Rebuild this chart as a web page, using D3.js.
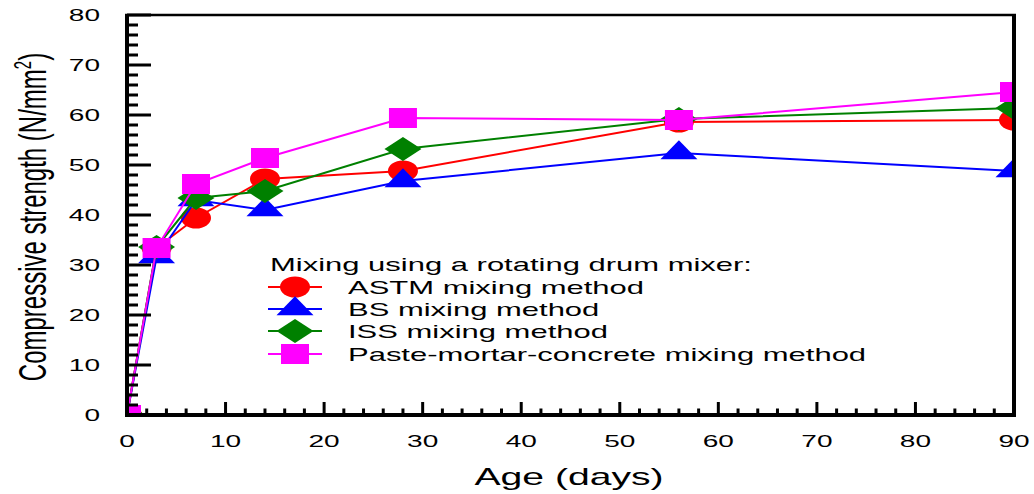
<!DOCTYPE html>
<html><head><meta charset="utf-8">
<script src="https://cdn.jsdelivr.net/npm/d3@7"></script>
<style>body{margin:0;background:#fff;} svg{display:block;} text{font-family:"Liberation Sans",Arial,sans-serif;}</style>
</head><body><svg id="c" width="1034" height="494"></svg>
<script>
const ages = [0, 3, 7, 14, 28, 56, 90];
const astm  = [0, 33.4, 39.4, 47.2, 48.8, 58.6, 59.0];
const bs    = [0, 31.6, 43.0, 41.0, 46.8, 52.4, 48.8];
const iss   = [0, 33.6, 43.4, 44.8, 53.2, 59.2, 61.4];
const paste = [0, 33.4, 46.2, 51.4, 59.4, 59.0, 64.6];
const seriesNames = ["ASTM mixing method","BS mixing method","ISS mixing method","Paste-mortar-concrete mixing method"];
const seriesColors = ["#ff0000","#0000ff","#008000","#ff00ff"];
const seriesShapes = ["ellipse","triangle","diamond","square"];
const legendTitle = "Mixing using a rotating drum mixer:";
const xTicks = [0,10,20,30,40,50,60,70,80,90];
const yTicks = [0,10,20,30,40,50,60,70,80];

const svg = d3.select("#c");
const x = d3.scaleLinear().domain([0,90]).range([127,1014]);
const y = d3.scaleLinear().domain([0,80]).range([415,15]);
const TS = 1.63; // horizontal text stretch

function stretch(sel,f){ sel.each(function(){ const w=this.getComputedTextLength(); this.setAttribute("textLength", w*f); this.setAttribute("lengthAdjust","spacingAndGlyphs"); }); }

function shapePath(s){
  if(s==="ellipse"){ const rx=15, ry=10.5; return `M${-rx},0A${rx},${ry} 0 1,0 ${rx},0A${rx},${ry} 0 1,0 ${-rx},0Z`; }
  if(s==="triangle"){ const w=37,h=19; return `M0,${-2*h/3}L${w/2},${h/3}L${-w/2},${h/3}Z`; }
  if(s==="diamond"){ const w=37,h=24; return `M0,${-h/2}L${w/2},0L0,${h/2}L${-w/2},0Z`; }
  const w=28,h=20; return `M${-w/2},${-h/2}h${w}v${h}h${-w}Z`;
}

svg.append("defs").append("clipPath").attr("id","clip").append("rect")
  .attr("x",x(0)).attr("y",y(80)).attr("width",x(90)-x(0)).attr("height",y(0)-y(80));

const data = [astm,bs,iss,paste];
const plot = svg.append("g").attr("clip-path","url(#clip)");
const line = d3.line().x((d,i)=>x(ages[i])).y(d=>y(d));
data.forEach((vals,k)=>{
  plot.append("path").datum(vals).attr("d",line).attr("fill","none")
    .attr("stroke",seriesColors[k]).attr("stroke-width",2);
  plot.selectAll(null).data(vals).enter().append("path")
    .attr("d",shapePath(seriesShapes[k]))
    .attr("transform",(d,i)=>`translate(${x(ages[i])},${y(d)})`)
    .attr("fill",seriesColors[k]);
});

// axes: ticks inward
const xMinor = d3.range(0,91,2);
const yMinor = d3.range(0,81,2);
svg.append("g").selectAll("line").data(xMinor).enter().append("line")
  .attr("x1",d=>x(d)).attr("x2",d=>x(d)).attr("y1",y(0))
  .attr("y2",d=>d%10===0? y(0)-13 : y(0)-6.5)
  .attr("stroke","#000").attr("stroke-width",3);
svg.append("g").selectAll("line").data(yMinor).enter().append("line")
  .attr("y1",d=>y(d)).attr("y2",d=>y(d)).attr("x1",x(0))
  .attr("x2",d=>d%10===0? x(0)+24 : x(0)+11)
  .attr("stroke","#000").attr("stroke-width",3);
// frame
svg.append("line").attr("x1",x(0)-2).attr("x2",x(90)+2).attr("y1",y(80)).attr("y2",y(80)).attr("stroke","#000").attr("stroke-width",2.5);
svg.append("line").attr("x1",x(90)).attr("x2",x(90)).attr("y1",y(80)-1).attr("y2",y(0)+2).attr("stroke","#000").attr("stroke-width",4);
svg.append("line").attr("x1",x(0)).attr("x2",x(0)).attr("y1",y(80)-1).attr("y2",y(0)+2).attr("stroke","#000").attr("stroke-width",4);
svg.append("line").attr("x1",x(0)-2).attr("x2",x(90)+2).attr("y1",y(0)).attr("y2",y(0)).attr("stroke","#000").attr("stroke-width",4);

// tick labels
const xl = svg.append("g").selectAll("text").data(xTicks).enter().append("text")
  .attr("x",d=>x(d)).attr("y",447).attr("text-anchor","middle").attr("font-size",16).text(d=>d);
stretch(xl,1.75);
const yl = svg.append("g").selectAll("text").data(yTicks).enter().append("text")
  .attr("x",100).attr("y",d=>y(d)+6).attr("text-anchor","end").attr("font-size",16).text(d=>d);
stretch(yl,1.75);

// axis titles
const at = svg.append("text").attr("x",569).attr("y",485).attr("text-anchor","middle").attr("font-size",24).text("Age (days)");
stretch(at,TS);
const yt = svg.append("text").attr("transform","translate(46,217) scale(1.63,1) rotate(-90)")
  .attr("text-anchor","middle").attr("font-size",24);
yt.append("tspan").text("Compressive strength (N/mm");
yt.append("tspan").attr("font-size",15).attr("dy",-9).text("2");
yt.append("tspan").attr("dy",9).text(")");

// legend
const lg = svg.append("g");
const lt = lg.append("text").attr("x",270).attr("y",271).attr("font-size",19).text(legendTitle);
stretch(lt,TS);
const rowsY = [287,309,331,354];
seriesNames.forEach((nm,k)=>{
  const ry = rowsY[k];
  lg.append("line").attr("x1",268).attr("x2",322).attr("y1",ry).attr("y2",ry).attr("stroke",seriesColors[k]).attr("stroke-width",2);
  lg.append("path").attr("d",shapePath(seriesShapes[k])).attr("transform",`translate(295,${ry})`).attr("fill",seriesColors[k]);
  const t = lg.append("text").attr("x",348).attr("y",ry+7).attr("font-size",19).text(nm);
  stretch(t,TS);
});
</script></body></html>
